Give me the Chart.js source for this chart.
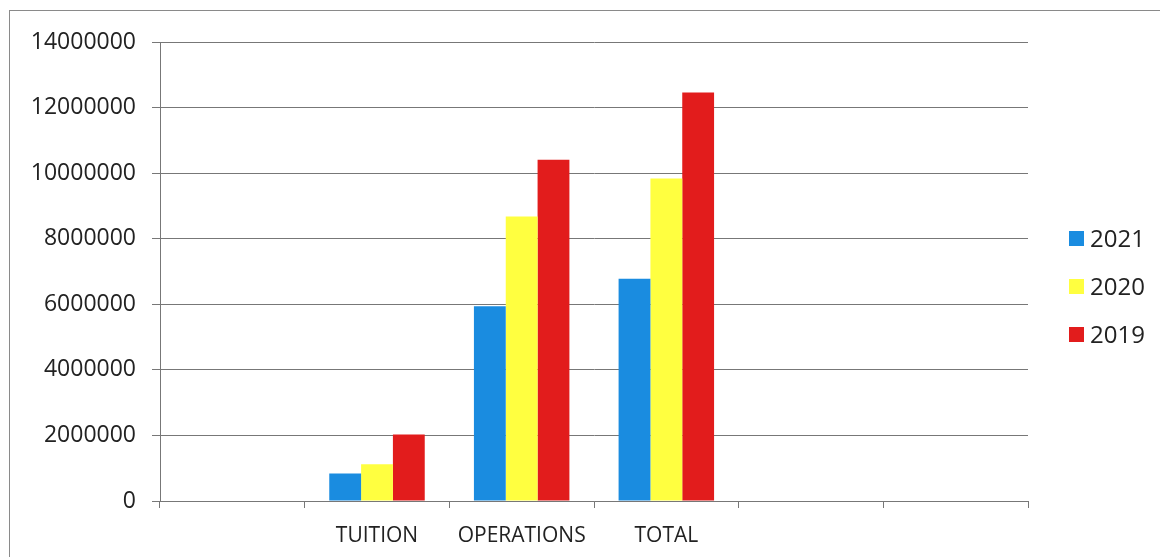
<!DOCTYPE html>
<html>
<head>
<meta charset="utf-8">
<script src="https://cdn.jsdelivr.net/npm/chart.js@4"></script>
<style>
  body { margin: 0; background: #fff; }
  #wrap { position: relative; width: 1160px; height: 557px; overflow: hidden; }
  #frame {
    position: absolute; left: 9px; top: 10px; width: 1200px; height: 600px;
    border-top: 1px solid #8a8a8a; border-left: 1px solid #8a8a8a;
  }
  canvas { position: absolute; left: 0; top: 0; }
  #legend { position: absolute; left: 1069px; top: 223px; font-family: "Open Sans", sans-serif; font-size: 24px; color: #222; }
  .item { height: 48px; display: flex; align-items: flex-start; }
  .box { width: 15px; height: 15px; margin-top: 8px; margin-right: 6px; }
</style>
</head>
<body>
<div id="wrap">
  <div id="frame"></div>
  <canvas id="myChart" width="1160" height="557"></canvas>
  <div id="legend"></div>
</div>
<script>
const categories = ["", "TUITION", "OPERATIONS", "TOTAL", "", ""];
const seriesNames = ["2021", "2020", "2019"];
const values2021 = [null, 840000, 5940000, 6780000, null, null];
const values2020 = [null, 1120000, 8680000, 9840000, null, null];
const values2019 = [null, 2030000, 10410000, 12460000, null, null];
const colors = ["rgb(26,140,224)", "rgb(255,255,64)", "rgb(226,28,28)"];

const ctx = document.getElementById("myChart").getContext("2d");

const data = {
  labels: categories,
  datasets: [values2021, values2020, values2019].map((vals, i) => {
    return {
      label: seriesNames[i],
      data: vals,
      backgroundColor: colors[i],
      borderWidth: 0,
      categoryPercentage: 0.66,
      barPercentage: 1.0,
    };
  }),
};

const config = {
  type: "bar",
  data: data,
  options: {
    responsive: false,
    animation: false,
    layout: {
      padding: { top: 42, right: 132, left: 0, bottom: 0 },
    },
    plugins: {
      legend: { display: false },
      tooltip: { enabled: false },
    },
    scales: {
      x: {
        afterFit: (scale) => {
          scale.height = 56;
        },
        border: { color: "#777", width: 1 },
        grid: {
          drawOnChartArea: false,
          tickLength: 7,
          color: "#777",
        },
        ticks: {
          color: "#222",
          padding: 15,
          font: { family: "Open Sans", size: 21 },
        },
      },
      y: {
        min: 0,
        max: 14000000,
        afterFit: (scale) => {
          scale.width = 160;
        },
        border: { color: "#777", width: 1 },
        grid: {
          color: "#777",
          tickLength: 8,
        },
        ticks: {
          stepSize: 2000000,
          color: "#222",
          padding: 16,
          font: { family: "Open Sans", size: 23 },
          callback: (value) => String(value),
        },
      },
    },
  },
};

const myChart = new Chart(ctx, config);

// html legend
const legend = document.getElementById("legend");
seriesNames.forEach((name, i) => {
  const row = document.createElement("div");
  row.className = "item";
  row.innerHTML = '<div class="box" style="background:' + colors[i] + '"></div><span style="line-height:30px">' + name + "</span>";
  legend.appendChild(row);
});
</script>
</body>
</html>
